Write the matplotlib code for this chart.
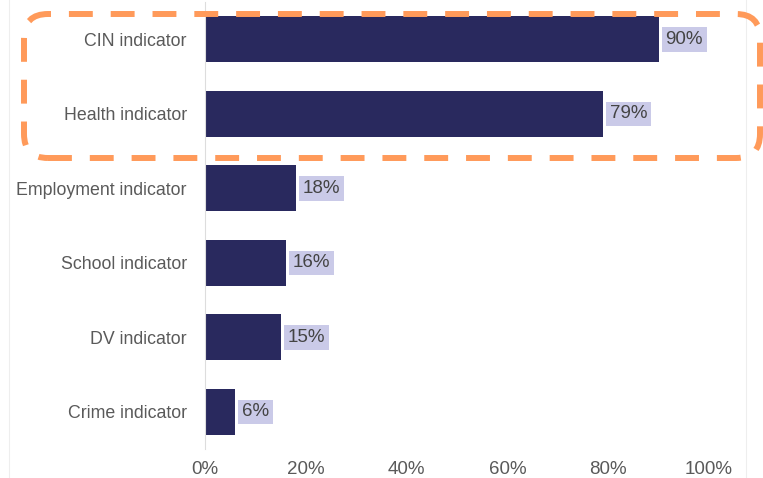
import matplotlib.pyplot as plt
from matplotlib.patches import FancyBboxPatch
from matplotlib.lines import Line2D
from matplotlib.transforms import IdentityTransform
from matplotlib.ticker import PercentFormatter

plt.rcParams['font.family'] = ['Liberation Sans', 'DejaVu Sans']

# indicator shares, top to bottom
indicators = ['CIN indicator', 'Health indicator', 'Employment indicator',
              'School indicator', 'DV indicator', 'Crime indicator']
shares = [90, 79, 18, 16, 15, 6]
x_ticks = [0, 20, 40, 60, 80, 100]

bar_color = '#29295e'
label_bg = '#cacae8'
text_grey = '#5a5a5a'
highlight = '#ff9a5a'

fig = plt.figure(figsize=(7.63, 4.78), dpi=100)
ax = fig.add_axes([205 / 763, 29 / 478, 504 / 763, 447 / 478])

pos = list(range(len(indicators)))
ax.barh(pos, shares, height=0.62, color=bar_color, zorder=2)

for p, v in zip(pos, shares):
    ax.annotate(f'{v}%', xy=(v, p), xytext=(5, 0), textcoords='offset points',
                va='center', ha='left', fontsize=13.5, color='#444444',
                bbox=dict(boxstyle='square,pad=0.2', facecolor=label_bg, edgecolor='none'),
                annotation_clip=False)

ax.set_xlim(0, 100)
ax.set_ylim(5.5, -0.5)
ax.set_yticks(pos)
ax.set_yticklabels(indicators)
ax.set_xticks(x_ticks)
ax.xaxis.set_major_formatter(PercentFormatter(decimals=0))
ax.tick_params(axis='y', length=0, labelsize=12.8, colors=text_grey, pad=13)
ax.tick_params(axis='x', length=0, labelsize=13.5, colors=text_grey, pad=9)

for side in ['top', 'right', 'bottom']:
    ax.spines[side].set_visible(False)
ax.spines['left'].set_color('#dddddd')
ax.spines['left'].set_linewidth(0.8)

# faint outer frame edges
for fx in [8.5 / 763, 745.5 / 763]:
    fig.add_artist(Line2D([fx, fx], [0, 1], transform=fig.transFigure,
                          color='#eeeeee', linewidth=0.8))

# dashed rounded box around the two top bars (pixel coordinates)
box = FancyBboxPatch((24, 320), 736, 144, boxstyle='round,pad=0,rounding_size=24',
                     transform=IdentityTransform(), fill=False, edgecolor=highlight,
                     linewidth=4.3, linestyle=(0, (4, 3)), zorder=5)
fig.add_artist(box)

fig.savefig('out.png', dpi=100)
